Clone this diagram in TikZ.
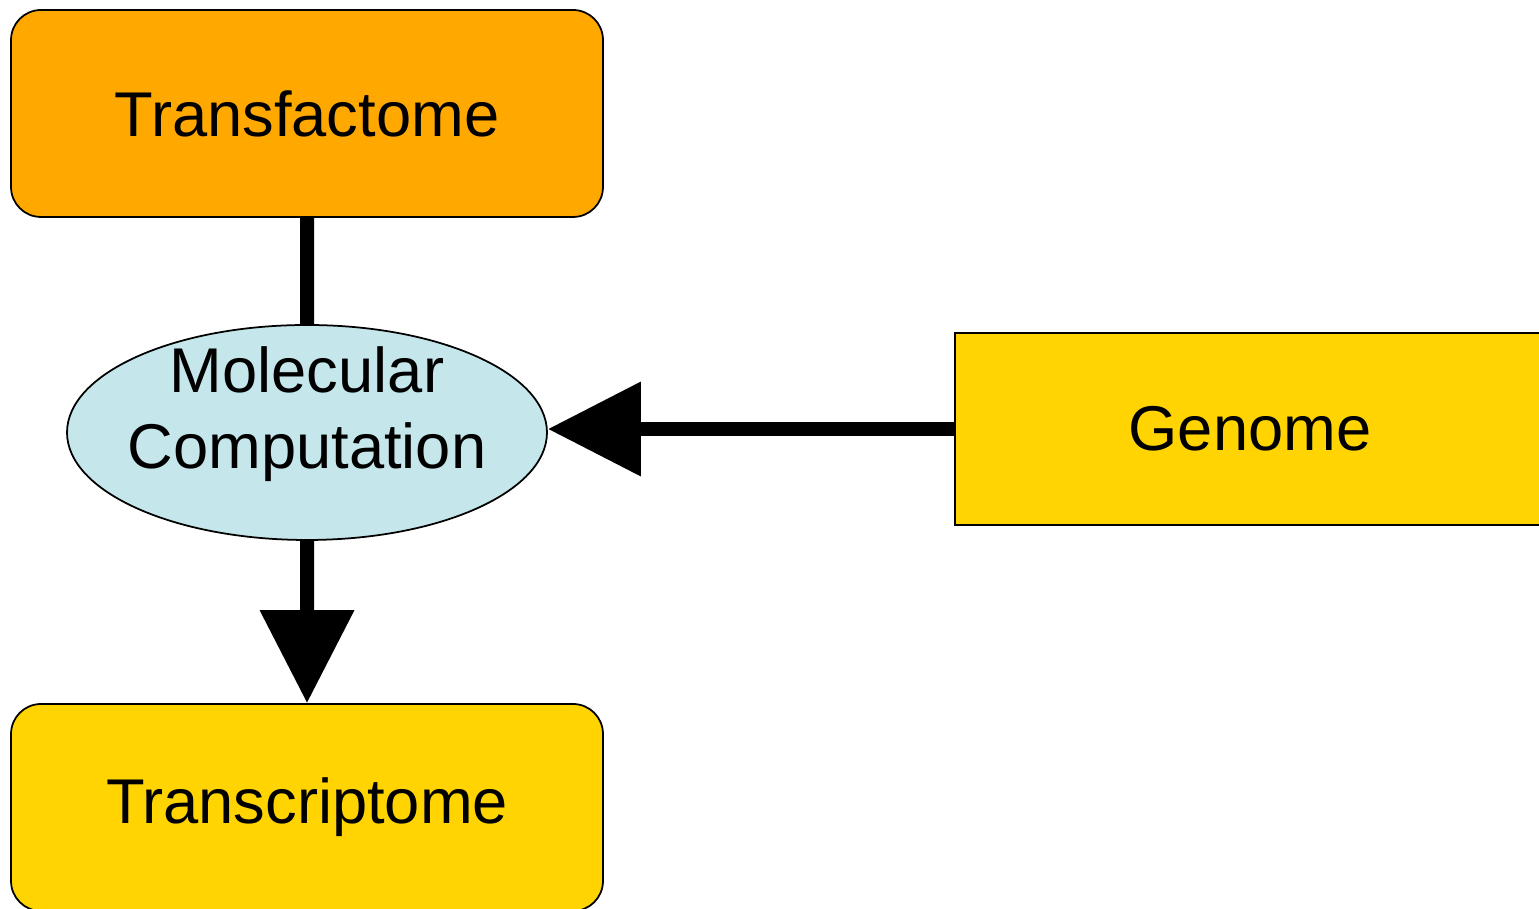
\documentclass[tikz,border=0pt]{standalone}
\usepackage{fontspec}
\setmainfont{Liberation Sans}
\usetikzlibrary{positioning,shapes.geometric,arrows.meta}
\definecolor{tforange}{RGB}{255,168,0}
\definecolor{gengold}{RGB}{255,212,0}
\definecolor{molblue}{RGB}{197,230,234}

\begin{document}
\begin{tikzpicture}[scale=0.1]
\tikzstyle{every node}+=[inner sep=0pt, font=\fontsize{18}{21.6}\selectfont]
\tikzstyle{roundbox}=[draw=black, line width=0.5pt, rounded corners=0.3cm, minimum width=5.92cm, minimum height=2.07cm]
\tikzstyle{flow}=[line width=0.14cm]
\tikzstyle{bigtip}=[-{Triangle[length=0.93cm,width=0.91cm]}]
\clip (0,0) rectangle (153.9,-90.9);
\node [roundbox, fill=tforange] (tf) at (30.7,-11.35) {Transfactome};
\node [ellipse, draw=black, line width=0.5pt, fill=molblue, minimum width=4.8cm, minimum height=2.15cm] (mc) at (30.7,-43.25) {};
\node [align=center, above=-1.58cm of mc.north] (mclabel) {Molecular\\Computation};
\node [rectangle, draw=black, line width=0.5pt, fill=gengold, minimum width=5.9cm, minimum height=1.92cm] (gn) at (125.0,-42.9) {Genome};
\node [roundbox, fill=gengold] (tr) at (30.7,-80.75) {Transcriptome};
\draw [flow] (tf) -- (mc);
\draw [flow, bigtip] (mc) -- (tr);
\draw [flow, bigtip] (gn.west) -- (gn.west -| mc.east);
\end{tikzpicture}
\end{document}
